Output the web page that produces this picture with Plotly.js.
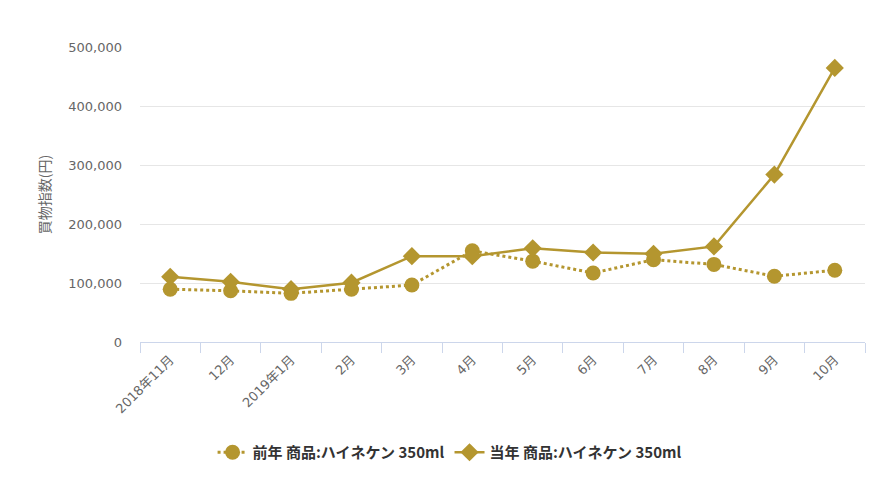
<!DOCTYPE html>
<html>
<head>
<meta charset="utf-8">
<script src="https://cdn.plot.ly/plotly-3.0.1.min.js"></script>
<style>html,body{margin:0;padding:0;background:#fff;}#chart{width:884px;height:480px;}</style>
</head>
<body>
<div id="chart"></div>
<script>
const categories = ["2018年11月","12月","2019年1月","2月","3月","4月","5月","6月","7月","8月","9月","10月"];
const prevYear = [89500, 86800, 82500, 89500, 96500, 154500, 137000, 117000, 139500, 131500, 111500, 121600];
const currYear = [110500, 102000, 89500, 100500, 145500, 145500, 158800, 151700, 149500, 162000, 283800, 464600];
const prevName = "前年 商品:ハイネケン 350ml";
const currName = "当年 商品:ハイネケン 350ml";
const yTicks = [0, 100000, 200000, 300000, 400000, 500000];

const gold = "#b4962f";
const baseFont = "'DejaVu Sans', 'Noto Sans CJK JP', sans-serif";

const traces = [
  {
    x: categories, y: prevYear, name: prevName, type: "scatter", mode: "lines+markers",
    line: {color: gold, width: 3, dash: "dot"},
    marker: {symbol: "circle", size: 15, color: gold}
  },
  {
    x: categories, y: currYear, name: currName, type: "scatter", mode: "lines+markers",
    line: {color: gold, width: 2.5},
    marker: {symbol: "diamond", size: 14, color: gold}
  }
];

const layout = {
  width: 884, height: 480,
  margin: {l: 140, r: 19, t: 47, b: 137},
  paper_bgcolor: "#ffffff", plot_bgcolor: "#ffffff",
  font: {family: baseFont, color: "#666666", size: 13},
  showlegend: true,
  legend: {
    orientation: "h", x: 0.427, xanchor: "center", y: -0.37, yanchor: "middle",
    font: {family: "'Noto Sans CJK JP', sans-serif", size: 15, color: "#333333", weight: "bold"},
    itemwidth: 30
  },
  xaxis: {
    type: "category", range: [-0.5, 11.5],
    showgrid: false, zeroline: false,
    showline: true, linecolor: "#ccd6eb", linewidth: 1,
    ticks: "outside", tickson: "boundaries", ticklen: 10, tickcolor: "#ccd6eb",
    tickangle: -45, ticklabelstandoff: 4,
    tickfont: {family: baseFont, size: 13, color: "#666666"}
  },
  yaxis: {
    range: [0, 500000], tickvals: yTicks, tickformat: ",d",
    showgrid: true, gridcolor: "#e6e6e6", gridwidth: 1,
    zeroline: false, showline: false,
    ticks: "", ticklabelstandoff: 17,
    tickfont: {family: baseFont, size: 13, color: "#666666"},
    title: {text: "買物指数(円)", font: {family: "'Noto Sans CJK JP', sans-serif", size: 14, color: "#666666"}, standoff: 14}
  }
};

Plotly.newPlot("chart", traces, layout, {displayModeBar: false, staticPlot: true});
</script>
</body>
</html>
